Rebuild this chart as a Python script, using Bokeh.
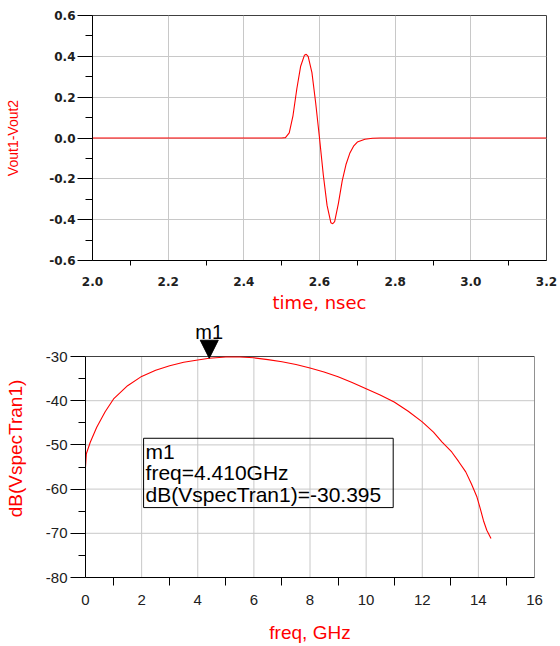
from bokeh.plotting import figure
from bokeh.models import FixedTicker, Label, Arrow, NormalHead, Range1d, PrintfTickFormatter
from bokeh.embed import file_html
from bokeh.resources import INLINE

# ---------------- top chart data: Vout1-Vout2 vs time ----------------
time_ns = [2.0, 2.5, 2.51, 2.52, 2.53, 2.54, 2.55, 2.56, 2.565, 2.57, 2.58, 2.59,
           2.60, 2.61, 2.62, 2.63, 2.635, 2.64, 2.65, 2.66, 2.67, 2.68, 2.69,
           2.70, 2.72, 2.74, 2.76, 3.2]
vdiff = [0.0, 0.0, 0.002, 0.025, 0.11, 0.24, 0.35, 0.405, 0.41, 0.40, 0.32, 0.17,
         0.0, -0.18, -0.33, -0.415, -0.42, -0.41, -0.32, -0.21, -0.13, -0.075, -0.04,
         -0.02, -0.006, -0.001, 0.0, 0.0]

top_xticks = [2.0, 2.2, 2.4, 2.6, 2.8, 3.0, 3.2]
top_xtick_labels = ["2.0", "2.2", "2.4", "2.6", "2.8", "3.0", "3.2"]
top_xminor = [2.1, 2.3, 2.5, 2.7, 2.9, 3.1]
top_yticks = [-0.6, -0.4, -0.2, 0.0, 0.2, 0.4, 0.6]
top_ytick_labels = ["-0.6", "-0.4", "-0.2", "0.0", "0.2", "0.4", "0.6"]
top_yminor = [-0.5, -0.3, -0.1, 0.1, 0.3, 0.5]

# ---------------- bottom chart data: dB(VspecTran1) vs freq ----------------
freq_ghz = [0.0, 0.03, 0.17, 0.4, 0.7, 1.0, 1.5, 2.0, 2.5, 3.0, 3.5, 4.0, 4.41, 5.0,
            5.5, 6.0, 6.5, 7.0, 7.5, 8.0, 8.5, 9.0, 9.5, 10.0, 10.5, 11.0, 11.5,
            12.0, 12.4, 12.7, 13.05, 13.3, 13.55, 13.75, 13.95, 14.05, 14.18, 14.3, 14.45]
db_vspec = [-55.0, -52.0, -49.4, -46.0, -42.5, -39.6, -36.6, -34.5, -33.1, -32.1, -31.3,
            -30.8, -30.4, -30.1, -30.1, -30.3, -30.7, -31.2, -31.8, -32.6, -33.5, -34.6,
            -35.9, -37.3, -38.7, -40.3, -42.4, -44.8, -47.1, -49.3, -51.6, -53.8, -56.1,
            -58.8, -61.8, -64.0, -67.1, -69.3, -71.2]

bot_xticks = [0, 2, 4, 6, 8, 10, 12, 14, 16]
bot_xtick_labels = ["0", "2", "4", "6", "8", "10", "12", "14", "16"]
bot_xminor = [1, 3, 5, 7, 9, 11, 13, 15]
bot_yticks = [-80, -70, -60, -50, -40, -30]
bot_ytick_labels = ["-80", "-70", "-60", "-50", "-40", "-30"]
bot_yminor = [-75, -65, -55, -45, -35]

marker_name = "m1"
marker_freq = 4.410
marker_db = -30.395

RED = "#ff0000"
GRID = "#c8c8c8"
FRAME = "#404040"


def style_axes(p):
    p.background_fill_color = "white"
    p.border_fill_color = "white"
    for ax in (p.xaxis[0], p.yaxis[0]):
        ax.axis_line_color = "black"
        ax.major_tick_line_color = "black"
        ax.minor_tick_line_color = "black"
        ax.major_tick_in = 0
        ax.minor_tick_in = 0
        ax.axis_label_text_color = RED
        ax.axis_label_text_font_style = "normal"
        ax.major_label_text_color = "#202020"


# ---------------- top figure ----------------
p1 = figure(width=560, height=316, x_range=Range1d(2.0, 3.2), y_range=Range1d(-0.6, 0.6),
            output_backend="svg", toolbar_location=None,
            min_border_left=92, min_border_right=14, min_border_top=15, min_border_bottom=56)
style_axes(p1)
p1.outline_line_color = FRAME
p1.grid.grid_line_color = GRID
p1.line(time_ns, vdiff, line_color=RED, line_width=1.1)

p1.xaxis.ticker = FixedTicker(ticks=top_xticks, minor_ticks=top_xminor)
p1.yaxis.ticker = FixedTicker(ticks=top_yticks, minor_ticks=top_yminor)
p1.xaxis.formatter = PrintfTickFormatter(format="%.1f")
p1.yaxis.formatter = PrintfTickFormatter(format="%.1f")
p1.xaxis.major_label_overrides = dict(zip(top_xticks, top_xtick_labels))
p1.yaxis.major_label_overrides = dict(zip(top_yticks, top_ytick_labels))
for ax in (p1.xaxis[0], p1.yaxis[0]):
    ax.major_label_text_font = "DejaVu Sans"
    ax.major_label_text_font_style = "bold"
    ax.major_label_text_font_size = "12px"
p1.xaxis.major_tick_out = 0
p1.xaxis.minor_tick_out = 5
p1.xaxis.major_label_standoff = 11
p1.xaxis.axis_label = "time, nsec"
p1.xaxis.axis_label_text_font = "DejaVu Sans"
p1.xaxis.axis_label_text_font_size = "18px"
p1.xaxis.axis_label_standoff = 3
p1.yaxis.major_tick_out = 15
p1.yaxis.minor_tick_out = 7
p1.yaxis.major_label_standoff = 2
p1.yaxis.axis_label = "Vout1-Vout2"
p1.yaxis.axis_label_text_font = "Liberation Sans"
p1.yaxis.axis_label_text_font_size = "14px"
p1.yaxis.axis_label_standoff = 25

# ---------------- bottom figure ----------------
# frame reaches a little above -30 so the marker triangle and its name are not clipped
y_top = bot_yticks[-1] + 37 * (bot_yticks[-1] - bot_yticks[0]) / 221.0
p2 = figure(width=560, height=330, x_range=Range1d(bot_xticks[0], bot_xticks[-1]),
            y_range=Range1d(bot_yticks[0], y_top),
            output_backend="svg", toolbar_location=None,
            min_border_left=85, min_border_right=26, min_border_top=3, min_border_bottom=69)
style_axes(p2)
p2.outline_line_color = None
p2.grid.visible = False

x_lo, x_hi = bot_xticks[0], bot_xticks[-1]
y_lo, y_hi = bot_yticks[0], bot_yticks[-1]
# grid lines (limited to the -80..-30 window)
p2.segment(x0=bot_xticks, y0=[y_lo] * len(bot_xticks), x1=bot_xticks, y1=[y_hi] * len(bot_xticks),
           line_color=GRID, line_width=1)
p2.segment(x0=[x_lo] * len(bot_yticks), y0=bot_yticks, x1=[x_hi] * len(bot_yticks), y1=bot_yticks,
           line_color=GRID, line_width=1)
# frame border: top and right
p2.segment(x0=[x_lo, x_hi], y0=[y_hi, y_lo], x1=[x_hi, x_hi], y1=[y_hi, y_hi],
           line_color=FRAME, line_width=1)

p2.line(freq_ghz, db_vspec, line_color=RED, line_width=1.1)

p2.xaxis.ticker = FixedTicker(ticks=bot_xticks, minor_ticks=bot_xminor)
p2.yaxis.ticker = FixedTicker(ticks=bot_yticks, minor_ticks=bot_yminor)
p2.yaxis.bounds = (y_lo, y_hi)
p2.xaxis.major_label_overrides = dict(zip(bot_xticks, bot_xtick_labels))
p2.yaxis.major_label_overrides = dict(zip(bot_yticks, bot_ytick_labels))
for ax in (p2.xaxis[0], p2.yaxis[0]):
    ax.major_label_text_font = "Liberation Sans"
    ax.major_label_text_font_size = "15px"
    ax.axis_label_text_font = "Liberation Sans"
    ax.axis_label_text_font_size = "19px"
p2.xaxis.major_tick_out = 0
p2.xaxis.minor_tick_out = 8
p2.xaxis.major_label_standoff = 9
p2.xaxis.axis_label = "freq, GHz"
p2.xaxis.axis_label_standoff = 14
p2.yaxis.major_tick_out = 15
p2.yaxis.minor_tick_out = 7
p2.yaxis.major_label_standoff = 3
p2.yaxis.axis_label = "dB(VspecTran1)"
p2.yaxis.axis_label_standoff = 17

# marker triangle and its name
head = NormalHead(size=18, fill_color="black", line_color="black", line_width=1)
p2.add_layout(Arrow(end=head, x_start=marker_freq, y_start=marker_db + 6,
                    x_end=marker_freq, y_end=marker_db, line_alpha=0))
p2.add_layout(Label(x=marker_freq, y=marker_db, text=marker_name, text_align="center",
                    text_baseline="alphabetic", y_offset=26, text_font="Liberation Sans",
                    text_font_size="20px", text_color="black"))

# marker readout box
readout = f"{marker_name}\nfreq={marker_freq:.3f}GHz\ndB(VspecTran1)={marker_db:.3f}"
p2.add_layout(Label(x=2.07, y=-48.5, text=readout, text_align="left", text_baseline="top",
                    text_font="Liberation Sans", text_font_size="21px", text_color="black",
                    text_line_height=0.92, border_line_color="black", border_line_width=1,
                    background_fill_color=None,
                    padding=dict(left=2, right=12, top=2, bottom=2)))

open("out.html", "w").write(file_html([p1, p2], INLINE))
